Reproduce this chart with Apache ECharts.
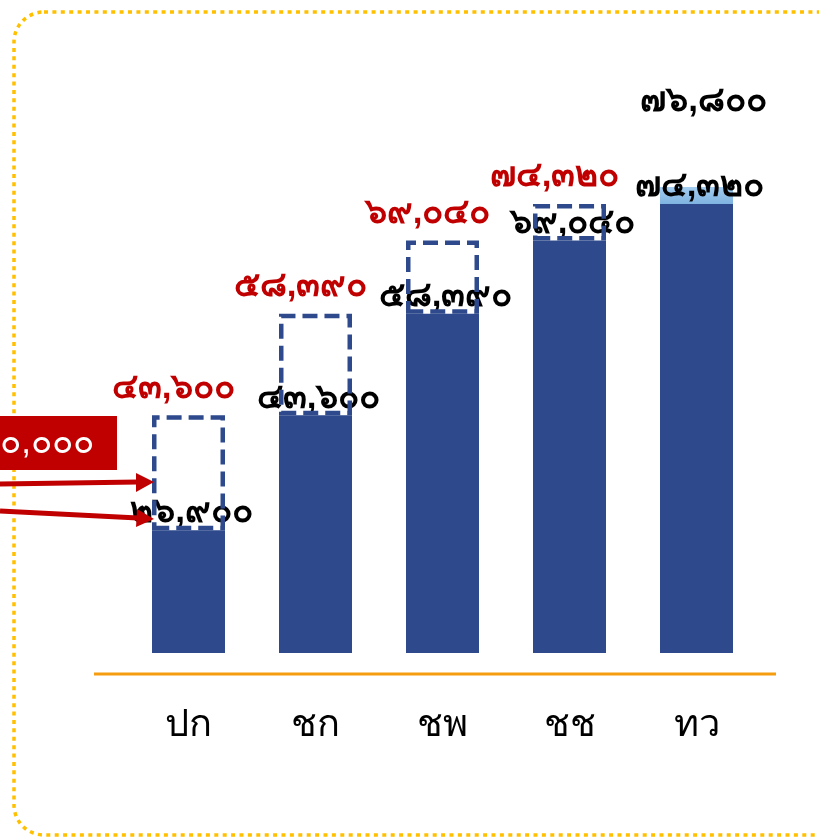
<!DOCTYPE html>
<html><head><meta charset="utf-8">
<script src="https://cdn.jsdelivr.net/npm/echarts@6/dist/echarts.min.js"></script>
<style>html,body{margin:0;padding:0;background:#fff}#c{width:819px;height:837px}</style>
</head><body><div id="c"></div>
<script>
var categories = ['ปก', 'ชก', 'ชพ', 'ชช', 'ทว'];
var currentValues = [26900, 43600, 58390, 69040, 74320];
var nextValues = [43600, 58390, 69040, 74320, null];
var topExtra = [null, null, null, null, 76800];
var boxText = '๑๐,๐๐๐';

var thaiDigits = '๐๑๒๓๔๕๖๗๘๙';
function toThai(n) {
  var s = String(n).replace(/\B(?=(\d{3})+(?!\d))/g, ',');
  return s.replace(/\d/g, function (d) { return thaiDigits[+d]; });
}
var incr = nextValues.map(function (v, i) { return v == null ? '-' : v - currentValues[i]; });
var extraIncr = topExtra.map(function (v, i) { return v == null ? '-' : v - currentValues[i]; });

var FONT = 'sans-serif';
var blue = '#2E4A8C';
var red = '#C00000';

var chart = echarts.init(document.getElementById('c'));
chart.setOption({
  animation: false,
  backgroundColor: '#fff',
  grid: { left: 125, right: 59, top: 100, bottom: 184 },
  xAxis: {
    type: 'category', data: categories,
    axisLine: { show: false }, axisTick: { show: false },
    axisLabel: { margin: 54, fontSize: 38, color: '#000', fontFamily: FONT }
  },
  yAxis: { type: 'value', min: 9050, max: 89450, show: false, splitLine: { show: false } },
  series: [
    {
      type: 'bar', stack: 's', barWidth: 73, data: currentValues,
      itemStyle: { color: blue },
      label: { show: true, position: 'top', distance: 0, offset: [3, 0], color: '#000', fontSize: 35, fontWeight: 'bold', fontFamily: FONT,
        formatter: function (p) { return toThai(p.value); } },
      z: 2
    },
    {
      type: 'bar', stack: 's', barWidth: 73, data: incr,
      itemStyle: { color: 'rgba(255,255,255,0)', borderColor: blue, borderWidth: 4.5, borderType: [15, 7] },
      label: { show: true, position: 'top', distance: 10, offset: [-15, 0], color: red, fontSize: 35, fontWeight: 'bold', fontFamily: FONT,
        formatter: function (p) { return toThai(nextValues[p.dataIndex]); } },
      z: 3
    },
    {
      type: 'bar', stack: 's', barWidth: 73, data: extraIncr,
      itemStyle: { color: new echarts.graphic.LinearGradient(0, 0, 0, 1, [{ offset: 0, color: '#A3CDF0' }, { offset: 1, color: '#7FB3E0' }]) },
      label: { show: true, position: 'top', distance: 6, offset: [7, -62], color: '#000', fontSize: 35, fontWeight: 'bold', fontFamily: FONT,
        formatter: function (p) { return toThai(topExtra[p.dataIndex]); } },
      z: 1
    }
  ],
  graphic: [
    { type: 'rect', shape: { x: 14, y: 12, width: 840, height: 823, r: 30 },
      style: { fill: 'none', stroke: '#FFC000', lineWidth: 3.5, lineDash: [4, 4.4] }, z: 0, silent: true },
    { type: 'line', shape: { x1: 94, y1: 674, x2: 776, y2: 674 }, style: { stroke: '#F59D0E', lineWidth: 3 }, z: 1 },
    { type: 'rect', shape: { x: -60, y: 416, width: 177, height: 54 }, style: { fill: red }, z: 5 },
    { type: 'text', style: { text: boxText, x: 94, y: 443, align: 'right', verticalAlign: 'middle', fill: '#fff', fontSize: 35, fontFamily: FONT }, z: 6 },
    { type: 'line', shape: { x1: 0, y1: 484, x2: 138, y2: 482 }, style: { stroke: red, lineWidth: 5 }, z: 5 },
    { type: 'polygon', shape: { points: [[136, 473], [154, 482], [136, 492]] }, style: { fill: red }, z: 5 },
    { type: 'line', shape: { x1: 0, y1: 511, x2: 138, y2: 518 }, style: { stroke: red, lineWidth: 5 }, z: 5 },
    { type: 'polygon', shape: { points: [[137, 509], [154, 519], [136, 527]] }, style: { fill: red }, z: 5 }
  ]
});
</script></body></html>
